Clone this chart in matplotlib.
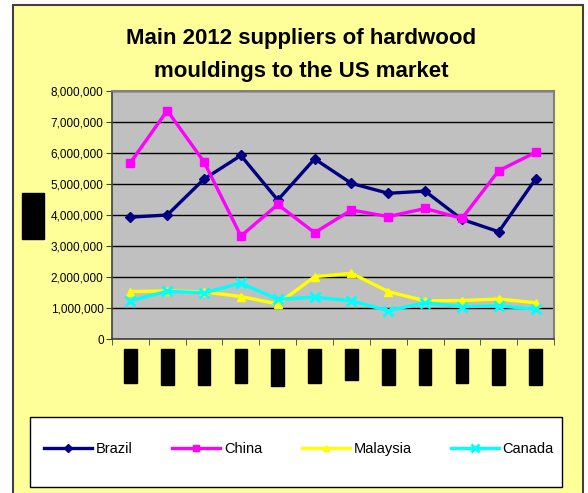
import matplotlib
matplotlib.use("Agg")
import matplotlib.pyplot as plt
from matplotlib.patches import Rectangle
from matplotlib.ticker import FuncFormatter, MultipleLocator, FixedLocator

# ------------------- data -------------------
months = ["Jan-12", "Feb-12", "Mar-12", "Apr-12", "May-12", "Jun-12",
          "Jul-12", "Aug-12", "Sep-12", "Oct-12", "Nov-12", "Dec-12"]
brazil   = [3930000, 4000000, 5160000, 5920000, 4480000, 5810000,
            5020000, 4700000, 4770000, 3860000, 3460000, 5160000]
china    = [5690000, 7370000, 5710000, 3320000, 4340000, 3430000,
            4160000, 3950000, 4210000, 3890000, 5430000, 6020000]
malaysia = [1530000, 1550000, 1520000, 1370000, 1130000, 2010000,
            2120000, 1530000, 1230000, 1240000, 1290000, 1170000]
canada   = [1230000, 1540000, 1490000, 1800000, 1280000, 1350000,
            1230000, 910000, 1170000, 1040000, 1070000, 960000]

plt.rcParams['font.family'] = ['Liberation Sans', 'DejaVu Sans']

W, H = 588, 493
fig = plt.figure(figsize=(W / 100, H / 100), dpi=100)
fig.patch.set_facecolor('white')

# yellow chart panel with dark border
fig.patches.append(Rectangle((13 / W, -0.02), 570 / W, 1 - 5 / H + 0.02,
                             transform=fig.transFigure, facecolor='#FFFF99',
                             edgecolor='#404040', linewidth=1.5, zorder=-2))

ax = fig.add_axes([112 / W, 1 - 339 / H, 442 / W, 248 / H])
ax.set_zorder(2)
ax.set_facecolor('#C0C0C0')

x = list(range(len(months)))
ax.plot(x, brazil, color='#000080', lw=2.4, marker='D', ms=5, label='Brazil', zorder=3)
ax.plot(x, china, color='#FF00FF', lw=2.4, marker='s', ms=6, label='China', zorder=3)
ax.plot(x, malaysia, color='#FFFF00', lw=2.4, marker='^', ms=6, label='Malaysia', zorder=3)
ax.plot(x, canada, color='#00FFFF', lw=2.4, marker='x', ms=7, mew=2, label='Canada', zorder=3)

ax.set_xlim(-0.5, 11.5)
ax.set_ylim(0, 8000000)
ax.yaxis.set_major_locator(MultipleLocator(1000000))
ax.yaxis.set_major_formatter(FuncFormatter(lambda v, p: f"{int(v):,}"))
ax.grid(axis='y', color='black', lw=1)
ax.set_axisbelow(True)

ax.xaxis.set_major_locator(FixedLocator(x))
ax.set_xticklabels(months, rotation=90, fontsize=7.5, color='black',
                   bbox=dict(facecolor='black', edgecolor='black', pad=1))
ax.xaxis.set_minor_locator(FixedLocator([i - 0.5 for i in range(13)]))
ax.tick_params(axis='x', which='major', length=0, pad=8)
ax.tick_params(axis='x', which='minor', length=4, direction='out', color='#404040')
ax.tick_params(axis='y', length=4, direction='out', labelsize=8.5, color='#404040', pad=2)

for side in ['top', 'right']:
    ax.spines[side].set_color('#808080')
    ax.spines[side].set_linewidth(1.5)
for side in ['left', 'bottom']:
    ax.spines[side].set_color('#404040')
    ax.spines[side].set_linewidth(1.2)

# y axis title (rendered as a black block in the reference)
fig.text(33 / W, 1 - 216 / H, "Value", rotation=90, ha='center', va='center',
         fontsize=11, color='black',
         bbox=dict(facecolor='black', edgecolor='black', pad=3))

fig.text(301 / W, 1 - 55 / H, "Main 2012 suppliers of hardwood\nmouldings to the US market",
         ha='center', va='center', fontsize=16, fontweight='bold', linespacing=1.7)

# legend box
fig.patches.append(Rectangle((30 / W, 1 - 487 / H), 532 / W, 70 / H,
                             transform=fig.transFigure, facecolor='white',
                             edgecolor='black', linewidth=1, zorder=1))
fig.legend(loc='center', bbox_to_anchor=(299 / W, 1 - 449 / H), ncol=4,
           frameon=False, fontsize=10.5, handlelength=3.3, columnspacing=2.7,
           handletextpad=0.25, markerscale=0.8)

fig.savefig("out.png", dpi=100, facecolor=fig.get_facecolor())
